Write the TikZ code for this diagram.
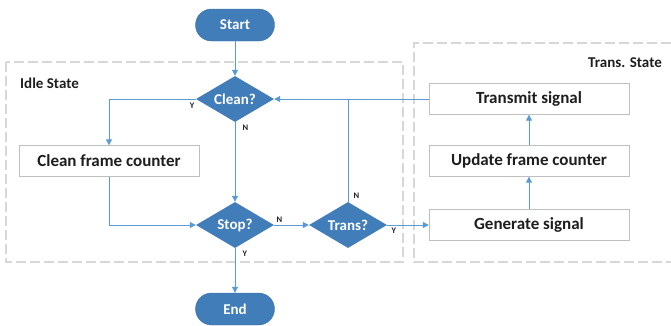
\documentclass[tikz,border=0pt]{standalone}
\usepackage{fontspec}
\setmainfont{Carlito}
\usepackage{xcolor}
\usepackage{tikz}
\usetikzlibrary{positioning}
\usetikzlibrary{shapes.geometric}
\usetikzlibrary{arrows.meta}

\definecolor{flowblue}{RGB}{65,125,185}
\definecolor{linkblue}{RGB}{91,155,213}
\definecolor{boxgray}{RGB}{191,191,191}
\definecolor{dashgray}{RGB}{215,215,215}
\definecolor{inkgray}{RGB}{30,30,30}

\tikzset{
  terminal/.style={rectangle,rounded corners=16pt,fill=flowblue,draw=flowblue!90!black,
    minimum width=79pt,minimum height=32pt,text=white,font=\fontsize{15}{17}\selectfont\bfseries},
  decision/.style={diamond,fill=flowblue,inner sep=0pt,aspect=1.7,
    minimum width=78pt,minimum height=46pt,text=white,font=\fontsize{15}{17}\selectfont\bfseries},
  process/.style={rectangle,draw=boxgray,fill=white,minimum height=31pt,
    text=inkgray,font=\fontsize{17}{19}\selectfont\bfseries},
  group/.style={draw=dashgray,line width=1.2pt,dash pattern=on 10pt off 4pt},
  grouplabel/.style={text=inkgray,font=\fontsize{15}{17}\selectfont\bfseries,inner sep=0pt},
  flow/.style={draw=linkblue,line width=1pt,-{Triangle[length=6pt,width=6pt]}},
  yn/.style={text=inkgray,font=\fontsize{8.5}{9}\selectfont\bfseries,inner sep=1pt}
}

\begin{document}
\begin{tikzpicture}[x=1pt,y=-1pt]
\useasboundingbox (0,0) rectangle (671,325);

% state groups
\draw[group] (6,62) rectangle (403,262);
\draw[group] (671,43) -- (414,43) -- (414,262) -- (671,262);
\node[grouplabel,anchor=west] (idle)  at (20,83)  {Idle State};
\node[grouplabel,anchor=east] (trans) at (662,63) {Trans. State};

% idle state
\node[terminal] (start) at (235,25)  {Start};
\node[decision] (clean) at (235,99)  {Clean?};
\node[process,minimum width=180pt] (cfc) at (109,161) {Clean frame counter};
\node[decision] (stop)  at (235,225) {Stop?};
\node[decision] (tq)    at (348,225) {Trans?};
\node[terminal] (endn)  at (235,309) {End};

% trans. state
\node[process,minimum width=200pt] (tx)  at (529,99)  {Transmit signal};
\node[process,minimum width=200pt] (upd) at (529,161) {Update frame counter};
\node[process,minimum width=200pt] (gen) at (529,225) {Generate signal};
\coordinate (join) at (tq.north |- clean.east);

\draw[flow] (start) -- (clean);
\draw[flow] (clean.west) -| node[yn,pos=0,anchor=north east,yshift=-2pt] {Y} (cfc.north);
\draw[flow] (clean.south) -- node[yn,pos=0,anchor=north west,xshift=6pt,yshift=-1pt] {N} (stop.north);
\draw[flow] (cfc.south) |- (stop.west);
\draw[flow] (stop.east) -- node[yn,pos=0,anchor=south west,xshift=1pt,yshift=1pt] {N} (tq.west);
\draw[flow] (stop.south) -- node[yn,pos=0,anchor=north west,xshift=6pt,yshift=-1pt] {Y} (endn.north);
\draw[flow] (tq.east) -- node[yn,pos=0,anchor=north west,xshift=3pt,yshift=-1pt] {Y} (gen.west);
\draw[linkblue,line width=1pt] (tq.north) -- node[yn,pos=0,anchor=south west,xshift=4pt,yshift=2pt] {N} (join);
\draw[flow] (tx.west) -- (clean.east);
\draw[flow] (gen) -- (upd);
\draw[flow] (upd) -- (tx);
\end{tikzpicture}
\end{document}
